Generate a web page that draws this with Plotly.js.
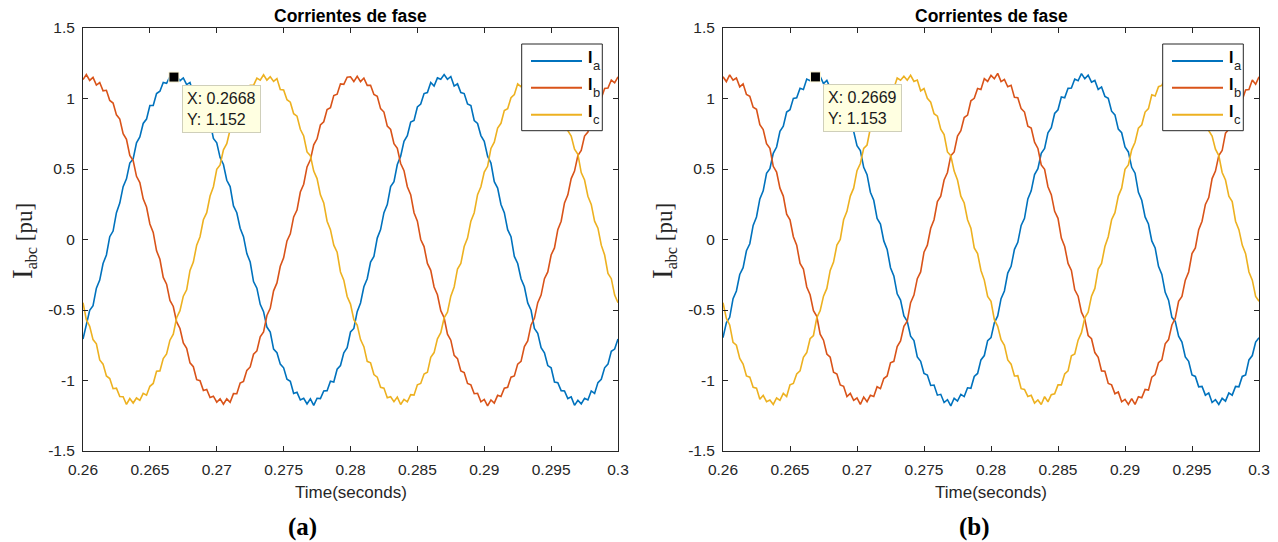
<!DOCTYPE html>
<html>
<head>
<meta charset="utf-8">
<script src="https://cdn.plot.ly/plotly-3.0.1.min.js"></script>
<style>
  html, body { margin: 0; padding: 0; background: #ffffff; }
  #chart { width: 1278px; height: 542px; }
</style>
</head>
<body>
<div id="chart"></div>
<script>
// Sample instants (s)
const timeS = [
  0.26,0.26025,0.2605,0.26075,0.261,0.26125,0.2615,0.26175,0.262,0.26225,0.2625,0.26275,0.263,0.26325,0.2635,0.26375,0.264,0.26425,0.2645,0.26475,
  0.265,0.26525,0.2655,0.26575,0.266,0.26625,0.2665,0.26675,0.267,0.26725,0.2675,0.26775,0.268,0.26825,0.2685,0.26875,0.269,0.26925,0.2695,0.26975,
  0.27,0.27025,0.2705,0.27075,0.271,0.27125,0.2715,0.27175,0.272,0.27225,0.2725,0.27275,0.273,0.27325,0.2735,0.27375,0.274,0.27425,0.2745,0.27475,
  0.275,0.27525,0.2755,0.27575,0.276,0.27625,0.2765,0.27675,0.277,0.27725,0.2775,0.27775,0.278,0.27825,0.2785,0.27875,0.279,0.27925,0.2795,0.27975,
  0.28,0.28025,0.2805,0.28075,0.281,0.28125,0.2815,0.28175,0.282,0.28225,0.2825,0.28275,0.283,0.28325,0.2835,0.28375,0.284,0.28425,0.2845,0.28475,
  0.285,0.28525,0.2855,0.28575,0.286,0.28625,0.2865,0.28675,0.287,0.28725,0.2875,0.28775,0.288,0.28825,0.2885,0.28875,0.289,0.28925,0.2895,0.28975,
  0.29,0.29025,0.2905,0.29075,0.291,0.29125,0.2915,0.29175,0.292,0.29225,0.2925,0.29275,0.293,0.29325,0.2935,0.29375,0.294,0.29425,0.2945,0.29475,
  0.295,0.29525,0.2955,0.29575,0.296,0.29625,0.2965,0.29675,0.297,0.29725,0.2975,0.29775,0.298,0.29825,0.2985,0.29875,0.299,0.29925,0.2995,0.29975,
  0.3
];

// Panel (a): phase currents [pu]
const iaA = [
  -0.706,-0.611,-0.502,-0.470,-0.345,-0.288,-0.170,-0.110,0.020,0.060,0.190,0.258,0.375,0.430,0.542,0.571,0.686,0.727,0.823,0.854,
  0.950,0.951,1.035,1.052,1.114,1.108,1.156,1.140,1.160,1.126,1.146,1.098,1.114,1.032,1.035,0.971,0.950,0.864,0.833,0.717,
  0.686,0.581,0.532,0.420,0.375,0.238,0.190,0.080,0.020,-0.100,-0.160,-0.298,-0.345,-0.460,-0.512,-0.621,-0.656,-0.777,-0.803,-0.884,
  -0.910,-0.991,-1.005,-1.092,-1.084,-1.138,-1.126,-1.166,-1.130,-1.176,-1.126,-1.128,-1.074,-1.072,-1.005,-1.011,-0.920,-0.894,-0.803,-0.767,
  -0.656,-0.631,-0.512,-0.450,-0.335,-0.278,-0.160,-0.120,0.010,0.070,0.190,0.248,0.375,0.410,0.532,0.591,0.696,0.737,0.833,0.844,
  0.940,0.961,1.035,1.042,1.114,1.088,1.146,1.136,1.170,1.136,1.156,1.088,1.104,1.042,1.035,0.961,0.950,0.844,0.823,0.737,
  0.696,0.591,0.542,0.410,0.365,0.248,0.190,0.070,0.020,-0.120,-0.170,-0.278,-0.335,-0.450,-0.502,-0.631,-0.666,-0.767,-0.803,-0.894,
  -0.910,-1.011,-1.015,-1.072,-1.074,-1.128,-1.116,-1.176,-1.140,-1.166,-1.126,-1.138,-1.074,-1.092,-1.015,-0.991,-0.910,-0.884,-0.793,-0.777,
  -0.706
];
const ibA = [
  1.134,1.170,1.128,1.150,1.095,1.113,1.054,1.058,0.986,0.968,0.884,0.854,0.750,0.710,0.596,0.559,0.448,0.404,0.288,0.230,
  0.110,0.050,-0.080,-0.140,-0.269,-0.317,-0.432,-0.475,-0.585,-0.631,-0.734,-0.772,-0.875,-0.902,-0.994,-1.001,-1.071,-1.064,-1.121,-1.111,
  -1.154,-1.130,-1.168,-1.130,-1.155,-1.093,-1.094,-1.018,-1.006,-0.928,-0.904,-0.814,-0.790,-0.690,-0.656,-0.539,-0.488,-0.364,-0.308,-0.190,
  -0.130,-0.010,0.040,0.160,0.209,0.337,0.392,0.515,0.565,0.671,0.714,0.812,0.835,0.922,0.934,1.021,1.031,1.104,1.101,1.151,
  1.154,1.120,1.158,1.120,1.145,1.093,1.094,1.028,1.016,0.928,0.904,0.804,0.780,0.680,0.646,0.539,0.488,0.374,0.318,0.190,
  0.130,0.000,-0.050,-0.170,-0.219,-0.337,-0.392,-0.505,-0.555,-0.671,-0.714,-0.822,-0.845,-0.932,-0.944,-1.021,-1.031,-1.094,-1.091,-1.151,
  -1.134,-1.180,-1.138,-1.160,-1.105,-1.113,-1.054,-1.048,-0.976,-0.968,-0.884,-0.864,-0.760,-0.720,-0.606,-0.559,-0.448,-0.394,-0.278,-0.230,
  -0.110,-0.060,0.070,0.130,0.259,0.317,0.432,0.485,0.595,0.631,0.734,0.762,0.865,0.892,0.984,1.001,1.071,1.074,1.131,1.111,
  1.154
];
const icA = [
  -0.448,-0.569,-0.616,-0.710,-0.740,-0.854,-0.884,-0.968,-0.986,-1.058,-1.054,-1.113,-1.115,-1.170,-1.128,-1.160,-1.124,-1.141,-1.091,-1.104,
  -1.041,-1.021,-0.934,-0.932,-0.845,-0.812,-0.714,-0.671,-0.555,-0.505,-0.402,-0.357,-0.219,-0.160,-0.040,0.020,0.140,0.190,0.308,0.374,
  0.498,0.529,0.636,0.680,0.780,0.814,0.914,0.938,1.006,1.008,1.094,1.093,1.145,1.130,1.168,1.130,1.154,1.121,1.141,1.064,
  1.061,0.991,0.974,0.892,0.875,0.782,0.734,0.621,0.595,0.485,0.432,0.317,0.259,0.130,0.070,-0.040,-0.090,-0.230,-0.288,-0.404,
  -0.458,-0.569,-0.606,-0.710,-0.760,-0.864,-0.874,-0.958,-0.976,-1.048,-1.054,-1.123,-1.115,-1.150,-1.118,-1.170,-1.134,-1.151,-1.101,-1.104,
  -1.031,-1.021,-0.954,-0.942,-0.835,-0.802,-0.704,-0.661,-0.555,-0.515,-0.402,-0.337,-0.209,-0.170,-0.050,0.010,0.130,0.190,0.318,0.374,
  0.478,0.519,0.646,0.690,0.790,0.824,0.914,0.928,1.006,1.028,1.104,1.083,1.135,1.120,1.158,1.130,1.164,1.121,1.121,1.054,
  1.071,1.001,0.984,0.902,0.875,0.772,0.734,0.641,0.605,0.475,0.422,0.307,0.249,0.130,0.080,-0.040,-0.110,-0.240,-0.278,-0.394,
  -0.448
];

// Panel (b): phase currents [pu]
const iaB = [
  -0.696,-0.591,-0.552,-0.420,-0.365,-0.248,-0.200,-0.080,-0.030,0.100,0.160,0.288,0.345,0.470,0.502,0.611,0.656,0.767,0.803,0.904,
  0.920,1.001,1.005,1.072,1.064,1.138,1.126,1.166,1.130,1.156,1.106,1.128,1.074,1.082,1.015,1.011,0.910,0.884,0.793,0.767,
  0.666,0.631,0.512,0.460,0.335,0.278,0.150,0.110,-0.010,-0.070,-0.200,-0.258,-0.385,-0.430,-0.542,-0.581,-0.686,-0.717,-0.833,-0.864,
  -0.950,-0.961,-1.035,-1.032,-1.104,-1.098,-1.156,-1.136,-1.180,-1.126,-1.146,-1.098,-1.114,-1.052,-1.055,-0.971,-0.950,-0.854,-0.823,-0.717,
  -0.696,-0.591,-0.542,-0.420,-0.365,-0.238,-0.190,-0.070,-0.020,0.100,0.150,0.288,0.345,0.460,0.502,0.611,0.646,0.757,0.793,0.894,
  0.920,1.011,1.005,1.072,1.074,1.138,1.126,1.176,1.140,1.166,1.116,1.128,1.064,1.082,1.015,1.001,0.910,0.884,0.783,0.757,
  0.656,0.621,0.512,0.470,0.335,0.278,0.160,0.110,-0.010,-0.060,-0.190,-0.248,-0.375,-0.430,-0.552,-0.581,-0.686,-0.727,-0.833,-0.864,
  -0.960,-0.971,-1.045,-1.042,-1.104,-1.088,-1.156,-1.136,-1.170,-1.126,-1.146,-1.088,-1.104,-1.042,-1.045,-0.971,-0.960,-0.854,-0.823,-0.727,
  -0.696
];
const ibB = [
  1.154,1.120,1.168,1.130,1.145,1.083,1.104,1.028,1.016,0.938,0.924,0.814,0.780,0.680,0.646,0.519,0.478,0.364,0.308,0.180,
  0.140,0.020,-0.040,-0.170,-0.209,-0.337,-0.392,-0.505,-0.545,-0.671,-0.714,-0.812,-0.835,-0.942,-0.954,-1.031,-1.041,-1.114,-1.091,-1.141,
  -1.124,-1.170,-1.118,-1.150,-1.105,-1.113,-1.044,-1.058,-0.986,-0.968,-0.874,-0.864,-0.760,-0.720,-0.616,-0.579,-0.448,-0.394,-0.278,-0.230,
  -0.090,-0.040,0.080,0.140,0.269,0.307,0.422,0.475,0.595,0.621,0.734,0.772,0.865,0.882,0.984,1.001,1.071,1.064,1.141,1.121,
  1.164,1.140,1.178,1.120,1.135,1.083,1.094,1.008,1.006,0.928,0.904,0.804,0.790,0.690,0.646,0.529,0.498,0.374,0.318,0.200,
  0.150,0.010,-0.050,-0.170,-0.219,-0.357,-0.402,-0.515,-0.565,-0.681,-0.704,-0.802,-0.835,-0.932,-0.934,-1.021,-1.031,-1.094,-1.081,-1.151,
  -1.134,-1.170,-1.128,-1.170,-1.115,-1.123,-1.064,-1.068,-0.976,-0.958,-0.874,-0.854,-0.740,-0.710,-0.606,-0.559,-0.438,-0.404,-0.288,-0.230,
  -0.100,-0.060,0.070,0.130,0.249,0.297,0.432,0.485,0.595,0.631,0.754,0.782,0.875,0.902,0.994,0.991,1.061,1.064,1.131,1.101,
  1.154
];
const icB = [
  -0.448,-0.559,-0.606,-0.730,-0.750,-0.844,-0.884,-0.968,-0.976,-1.048,-1.054,-1.133,-1.105,-1.150,-1.138,-1.170,-1.124,-1.141,-1.091,-1.114,
  -1.031,-1.021,-0.954,-0.932,-0.835,-0.802,-0.704,-0.681,-0.555,-0.505,-0.402,-0.347,-0.219,-0.160,-0.040,0.000,0.140,0.200,0.308,0.364,
  0.488,0.539,0.646,0.670,0.790,0.824,0.904,0.928,1.016,1.028,1.094,1.073,1.145,1.130,1.158,1.130,1.164,1.121,1.131,1.054,
  1.071,1.001,0.974,0.892,0.875,0.782,0.744,0.621,0.595,0.485,0.422,0.307,0.259,0.140,0.080,-0.060,-0.100,-0.220,-0.288,-0.404,
  -0.438,-0.569,-0.616,-0.710,-0.750,-0.854,-0.884,-0.968,-0.966,-1.058,-1.064,-1.113,-1.105,-1.160,-1.138,-1.170,-1.114,-1.151,-1.101,-1.094,
  -1.031,-1.031,-0.954,-0.932,-0.825,-0.812,-0.714,-0.661,-0.555,-0.515,-0.402,-0.347,-0.209,-0.170,-0.050,0.020,0.140,0.190,0.308,0.364,
  0.498,0.529,0.636,0.690,0.790,0.814,0.904,0.928,1.026,1.018,1.084,1.093,1.145,1.120,1.158,1.130,1.174,1.111,1.121,1.074,
  1.071,0.991,0.974,0.892,0.885,0.772,0.734,0.641,0.595,0.475,0.422,0.307,0.269,0.130,0.070,-0.040,-0.100,-0.230,-0.288,-0.404,
  -0.438
];

// Data-cursor readouts
const tipXA = [0.2668];
const tipYA = [1.152];
const tipXB = [0.2669];
const tipYB = [1.153];

// Axis ticks and text
const xTickVals = [0.26, 0.265, 0.27, 0.275, 0.28, 0.285, 0.29, 0.295, 0.3];
const xTickText = ['0.26', '0.265', '0.27', '0.275', '0.28', '0.285', '0.29', '0.295', '0.3'];
const yTickVals = [-1.5, -1, -0.5, 0, 0.5, 1, 1.5];
const yTickText = ['-1.5', '-1', '-0.5', '0', '0.5', '1', '1.5'];
const phaseSubs = ['a', 'b', 'c'];
const panelTitle = 'Corrientes de fase';
const xLabel = 'Time(seconds)';
const yLabel = '<span style="font-size:29px">I</span><sub>abc</sub> [pu]';
const panelTags = ['(a)', '(b)'];

// ---- drawing ----
const W = 1278, H = 542;
const px = v => v / W;
const py = v => 1 - v / H;
const SANS = 'Liberation Sans, Arial, Helvetica, sans-serif';
const SERIF = 'Liberation Serif, Times New Roman, serif';
const AXC = '#262626';
const phaseColors = ['#0072BD', '#D95319', '#EDB120'];

const panels = [
  { series: [iaA, ibA, icA], tipX: tipXA, tipY: tipYA, xa: 'x', ya: 'y', left: 83, right: 618, tagX: 302 },
  { series: [iaB, ibB, icB], tipX: tipXB, tipY: tipYB, xa: 'x2', ya: 'y2', left: 723, right: 1259, tagX: 974 }
];
const plotTop = 28, plotBottom = 451;

const traces = [];
const shapes = [];
const annotations = [];

panels.forEach((p, pi) => {
  p.series.forEach((ys, si) => {
    traces.push({
      x: timeS, y: ys, xaxis: p.xa, yaxis: p.ya,
      type: 'scatter', mode: 'lines',
      line: { color: phaseColors[si], width: 1.6 },
      name: 'I' + phaseSubs[si], showlegend: false, hoverinfo: 'skip'
    });
  });
  traces.push({
    x: p.tipX, y: p.tipY, xaxis: p.xa, yaxis: p.ya,
    type: 'scatter', mode: 'markers',
    marker: { symbol: 'square', size: 10, color: '#000000', line: { color: '#fff8d8', width: 1 } },
    showlegend: false, hoverinfo: 'skip'
  });

  const cx = (p.left + p.right) / 2;
  // panel title
  annotations.push({
    xref: 'paper', yref: 'paper', x: px(cx), y: py(15.5), xanchor: 'center', yanchor: 'middle',
    text: '<b>' + panelTitle + '</b>', showarrow: false,
    font: { family: SANS, size: 17.5, color: '#000000' }
  });
  // x label
  annotations.push({
    xref: 'paper', yref: 'paper', x: px(cx), y: py(492.5), xanchor: 'center', yanchor: 'middle',
    text: xLabel, showarrow: false,
    font: { family: SANS, size: 17, color: AXC }
  });
  // y label
  annotations.push({
    xref: 'paper', yref: 'paper', x: px(p.left - 60), y: py(241), xanchor: 'center', yanchor: 'middle',
    text: yLabel, textangle: -90, showarrow: false,
    font: { family: SERIF, size: 23, color: AXC }
  });
  // panel tag
  annotations.push({
    xref: 'paper', yref: 'paper', x: px(p.tagX), y: py(526.5), xanchor: 'center', yanchor: 'middle',
    text: '<b>' + panelTags[pi] + '</b>', showarrow: false,
    font: { family: SERIF, size: 25, color: '#000000' }
  });
  // data-cursor box
  annotations.push({
    xref: p.xa, yref: p.ya, x: p.tipX[0], y: p.tipY[0], xanchor: 'left', yanchor: 'top',
    xshift: 8, yshift: -7.5, align: 'left', showarrow: false,
    text: 'X: ' + p.tipX[0] + '<br>Y: ' + p.tipY[0],
    bgcolor: '#ffffe1', bordercolor: '#cfcfba', borderwidth: 1, borderpad: 4,
    font: { family: SANS, size: 16, color: '#1a1a1a' }
  });

  // legend
  const lx0 = p.right - 96.3, lx1 = p.right - 15.7;
  shapes.push({
    type: 'rect', xref: 'paper', yref: 'paper', layer: 'above',
    x0: px(lx0), x1: px(lx1), y0: py(130.7), y1: py(44),
    line: { color: AXC, width: 1 }, fillcolor: '#ffffff'
  });
  const rowY = [61, 87.7, 114.7];
  phaseSubs.forEach((s, si) => {
    shapes.push({
      type: 'line', xref: 'paper', yref: 'paper', layer: 'above',
      x0: px(lx0 + 9.3), x1: px(lx0 + 60.3), y0: py(rowY[si]), y1: py(rowY[si]),
      line: { color: phaseColors[si], width: 2 }
    });
    annotations.push({
      xref: 'paper', yref: 'paper', x: px(lx0 + 64), y: py(rowY[si] - 3.5), xanchor: 'left', yanchor: 'middle',
      text: '<b>I</b>', showarrow: false, font: { family: SANS, size: 16, color: '#000000' }
    });
    annotations.push({
      xref: 'paper', yref: 'paper', x: px(lx0 + 69), y: py(rowY[si] + 4.5), xanchor: 'left', yanchor: 'middle',
      text: s, showarrow: false, font: { family: SANS, size: 13, color: AXC }
    });
  });
});

function xAxisDef(p, anchor) {
  return {
    domain: [px(p.left), px(p.right)], anchor: anchor,
    range: [0.26, 0.3], tickmode: 'array', tickvals: xTickVals, ticktext: xTickText,
    ticks: 'inside', ticklen: 5, tickwidth: 1, tickcolor: AXC,
    showline: true, linecolor: AXC, linewidth: 1, mirror: 'ticks',
    showgrid: false, zeroline: false, ticklabelstandoff: 4,
    tickfont: { family: SANS, size: 15.5, color: AXC }, fixedrange: true
  };
}
function yAxisDef(anchor) {
  return {
    domain: [py(plotBottom), py(plotTop)], anchor: anchor,
    range: [-1.5, 1.5], tickmode: 'array', tickvals: yTickVals, ticktext: yTickText,
    ticks: 'inside', ticklen: 5, tickwidth: 1, tickcolor: AXC,
    showline: true, linecolor: AXC, linewidth: 1, mirror: 'ticks',
    showgrid: false, zeroline: false, ticklabelstandoff: 4,
    tickfont: { family: SANS, size: 15.5, color: AXC }, fixedrange: true
  };
}

const layout = {
  width: W, height: H,
  margin: { l: 0, r: 0, t: 0, b: 0, pad: 0 },
  paper_bgcolor: '#ffffff', plot_bgcolor: '#ffffff',
  showlegend: false,
  xaxis: xAxisDef(panels[0], 'y'),
  yaxis: yAxisDef('x'),
  xaxis2: xAxisDef(panels[1], 'y2'),
  yaxis2: yAxisDef('x2'),
  shapes: shapes,
  annotations: annotations
};

Plotly.newPlot('chart', traces, layout, { staticPlot: true, displayModeBar: false });
</script>
</body>
</html>
